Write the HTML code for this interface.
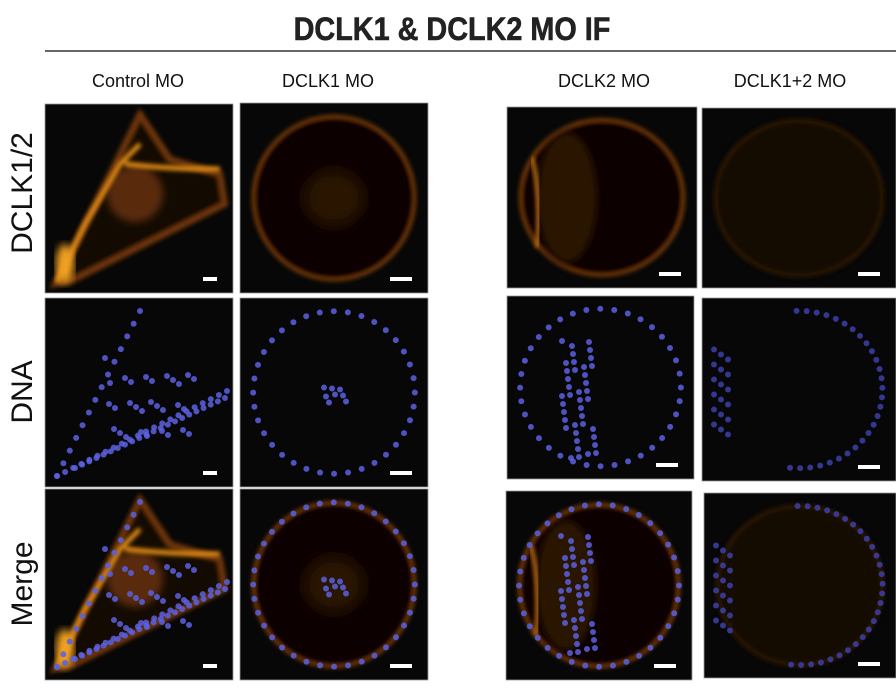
<!DOCTYPE html>
<html><head><meta charset="utf-8"><style>
body{margin:0;background:#fff;width:896px;height:689px;overflow:hidden;font-family:"Liberation Sans",sans-serif}
svg{position:absolute;left:0;top:0}
</style></head><body>
<svg width="896" height="689" viewBox="0 0 896 689">
<defs>
<filter id="b2"><feGaussianBlur stdDeviation="2"/></filter>
<filter id="b4"><feGaussianBlur stdDeviation="4"/></filter>
<filter id="b8"><feGaussianBlur stdDeviation="8"/></filter>
</defs>
<text x="452" y="40" text-anchor="middle" font-size="32" font-weight="bold" fill="#222" stroke="#222" stroke-width="0.6" transform="translate(452,0) scale(0.9,1) translate(-452,0)">DCLK1 &amp; DCLK2 MO IF</text>
<line x1="45" y1="51" x2="896" y2="51" stroke="#333" stroke-width="1.5"/>
<g font-size="18" fill="#111" text-anchor="middle">
<text x="138" y="87">Control MO</text>
<text x="328" y="87">DCLK1 MO</text>
<text x="604" y="87">DCLK2 MO</text>
<text x="790" y="87">DCLK1+2 MO</text>
</g>
<g font-size="30" fill="#111" text-anchor="middle">
<text transform="translate(32,193) rotate(-90)">DCLK1/2</text>
<text transform="translate(32,392) rotate(-90)">DNA</text>
<text transform="translate(32,584) rotate(-90)">Merge</text>
</g>
<g id="panels"></g>
</svg>
<script>
const svg=document.getElementById('panels');
const NS='http://www.w3.org/2000/svg';
function el(t,a,p){const e=document.createElementNS(NS,t);for(const k in a)e.setAttribute(k,a[k]);(p||svg).appendChild(e);return e;}
const P=[
 {n:'control-dclk',x:45,y:104,w:188,h:189,type:'tri',o:1,b:0},
 {n:'dclk1-dclk',x:240,y:103,w:188,h:190,type:'circ',o:1,b:0},
 {n:'dclk2-dclk',x:507,y:107,w:190,h:181,type:'oval',o:1,b:0},
 {n:'dclk12-dclk',x:702,y:108,w:194,h:180,type:'faint',o:1,b:0},
 {n:'control-dna',x:45,y:298,w:188,h:189,type:'tri',o:0,b:1},
 {n:'dclk1-dna',x:240,y:298,w:188,h:189,type:'circ',o:0,b:1},
 {n:'dclk2-dna',x:507,y:296,w:187,h:183,type:'oval',o:0,b:1},
 {n:'dclk12-dna',x:702,y:298,w:194,h:183,type:'faint',o:0,b:1},
 {n:'control-merge',x:45,y:489,w:188,h:191,type:'tri',o:1,b:1},
 {n:'dclk1-merge',x:240,y:489,w:188,h:191,type:'circ',o:1,b:1},
 {n:'dclk2-merge',x:506,y:491,w:186,h:189,type:'oval',o:1,b:1},
 {n:'dclk12-merge',x:704,y:493,w:192,h:185,type:'faint',o:0.2,b:1}
];
P.forEach(p=>{
 const g=el('g',{});
 
 
 el('rect',{x:p.x,y:p.y,width:p.w,height:p.h,fill:'#070707',stroke:'#999','stroke-width':0.8},g);
 const cx=p.x+p.w/2, cy=p.y+p.h/2;
 const or=p.o>=1?'#8a4510':'#3a1d08';
 const dcol=p.type==='faint'?'#3c40a8':'#5a60e0';
 const dots=(pts,col,r)=>pts.forEach(([a,b])=>el('circle',{cx:a,cy:b,r:r,fill:col,opacity:.85},g));
 if(p.type==='tri'){
  const x=p.x,y=p.y;
  const pts=[[x+10,y+180],[x+95,y+10],[x+125,y+55],[x+175,y+70],[x+180,y+100],[x+30,y+175]];
  if(p.o){
   el('polygon',{points:pts.map(q=>q.join(',')).join(' '),fill:'#140802',stroke:'#8a4210','stroke-width':6,opacity:.8,filter:'url(#b2)'},g);
   el('ellipse',{cx:x+90,cy:y+90,rx:28,ry:28,fill:'#5a2a08',filter:'url(#b4)'},g);
   el('path',{d:`M${x+12},${y+178} L${x+40},${y+120} L${x+75},${y+60} L${x+95},${y+40} M${x+80},${y+60} Q${x+120},${y+65} ${x+175},${y+65}`,stroke:'#e08a18','stroke-width':5,fill:'none',filter:'url(#b2)'},g);
   el('ellipse',{cx:x+20,cy:y+160,rx:9,ry:20,fill:'#f0a020',filter:'url(#b4)'},g);
  }
  if(p.b){
   const d=[];for(let i=0;i<22;i++){const t=i/21;d.push([x+12+t*170,y+178-t*85]);d.push([x+30+t*150,y+170-t*70]);}
   for(let i=0;i<14;i++){const t=i/13;d.push([x+12+t*83,y+178-t*165]);}
   for(let i=0;i<30;i++){d.push([x+60+(i*37%90),y+60+(i*53%80)]);}
   dots(d,dcol,3);
  }
 } else {
  let rx=p.w*0.43, ry=p.h*0.43;
  if(p.o){
   el('ellipse',{cx:cx,cy:cy,rx:rx,ry:ry,fill:p.type==='faint'?'#120904':'#0e0602',stroke:p.type==='faint'?'#2a1506':or,'stroke-width':p.type==='faint'?5:3,opacity:.9,filter:'url(#b2)'},g);
   if(p.type==='circ')el('ellipse',{cx:cx,cy:cy,rx:30,ry:28,fill:'#2a1204',filter:'url(#b8)'},g);
   if(p.type==='oval'){el('ellipse',{cx:p.x+60,cy:cy,rx:30,ry:65,fill:'#2a1204',filter:'url(#b4)'},g);
    el('path',{d:`M${p.x+25},${cy-40} Q${p.x+35},${cy} ${p.x+30},${cy+50}`,stroke:'#c07018','stroke-width':4,fill:'none',filter:'url(#b2)'},g);}
  }
  if(p.b){
   const d=[];const N=p.type==='faint'?28:36;
   const start=p.type==='faint'?-1.6:0, span=p.type==='faint'?3.4:6.28;
   for(let i=0;i<N;i++){const a=start+span*i/N;d.push([cx+rx*Math.cos(a),cy+ry*Math.sin(a)]);}
   if(p.type==='faint'){for(let i=0;i<18;i++)d.push([p.x+12+(i%3)*7,cy-40+i*5]);}
   if(p.type==='oval'){for(let i=0;i<40;i++)d.push([p.x+55+(i*13%35),p.y+45+(i*29%120)]);}
   if(p.type==='circ'){for(let i=0;i<8;i++)d.push([cx-10+(i*11%25),cy-5+(i*7%20)]);}
   dots(d,dcol,3);
  }
 }
 const bw=p.type==='tri'?14:22;
 el('rect',{x:p.x+p.w-bw-16,y:p.y+p.h-16,width:bw,height:4,fill:'#fff'},g);
});
</script>
</body></html>
